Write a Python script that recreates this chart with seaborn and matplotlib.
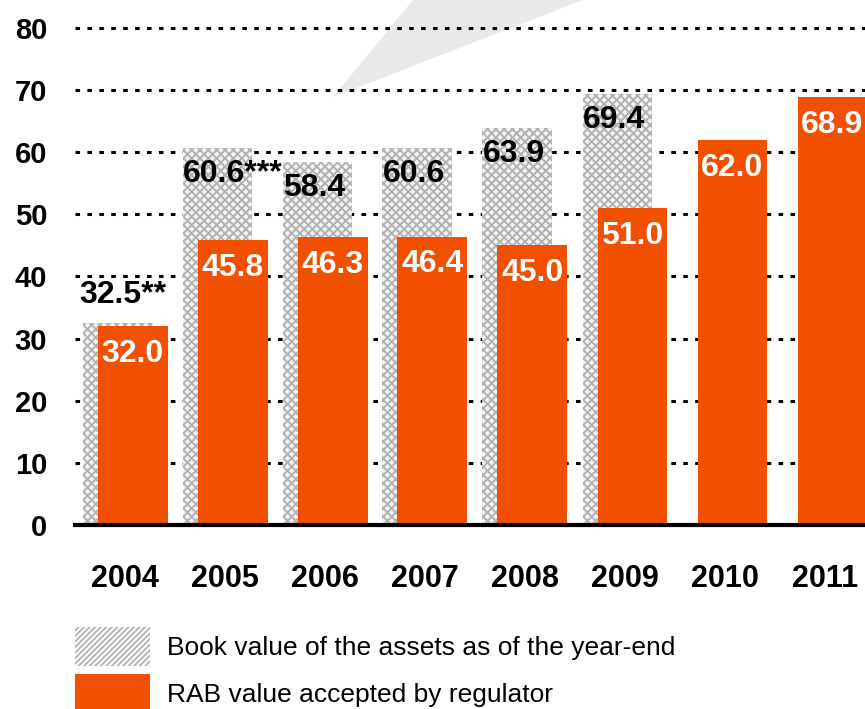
import numpy as np
import pandas as pd
import matplotlib
matplotlib.use("Agg")
import matplotlib.pyplot as plt
from matplotlib.patches import Patch, Polygon
import seaborn as sns

# ==========================
# Data
# ==========================
years = ["2004", "2005", "2006", "2007", "2008", "2009", "2010", "2011"]
book_value = [32.5, 60.6, 58.4, 60.6, 63.9, 69.4]
book_labels = ["32.5**", "60.6***", "58.4", "60.6", "63.9", "69.4"]
rab_value = [32.0, 45.8, 46.3, 46.4, 45.0, 51.0, 62.0, 68.9]
rab_labels = ["32.0", "45.8", "46.3", "46.4", "45.0", "51.0", "62.0", "68.9"]
y_ticks = [0, 10, 20, 30, 40, 50, 60, 70, 80]
legend_labels = ["Book value of the assets as of the year-end",
                 "RAB value accepted by regulator"]

ORANGE = "#F05000"
HATCH_GREY = "#b2b2b2"
shift = 0.075
bar_w = 0.7

# ==========================
# Style
# ==========================
sns.set_style("white")
plt.rcParams["font.family"] = ["Liberation Sans", "DejaVu Sans"]
plt.rcParams["hatch.linewidth"] = 1.4
plt.rcParams["text.color"] = "black"
plt.rcParams["xtick.color"] = "black"
plt.rcParams["ytick.color"] = "black"

fig = plt.figure(figsize=(8.65, 7.09), dpi=100)
ax = fig.add_axes([75 / 865, 184 / 709, 790 / 865, 525 / 709])
ax.patch.set_visible(False)

# light grey decorative wedge behind the chart
wedge = Polygon([(333 / 865, 1 - 97 / 709), (413 / 865, 1.0), (583 / 865, 1.0)],
                closed=True, transform=fig.transFigure,
                facecolor="#e9e9e9", edgecolor="none", zorder=-5)
fig.add_artist(wedge)

pos = np.arange(len(years))
book_df = pd.DataFrame({"x": pos[:len(book_value)] - shift, "v": book_value})
rab_df = pd.DataFrame({"x": pos + shift, "v": rab_value})

sns.barplot(data=book_df, x="x", y="v", native_scale=True, width=bar_w,
            color="#f4f4f4", edgecolor=HATCH_GREY, linewidth=0, hatch="xxxx",
            errorbar=None, saturation=1, ax=ax)
sns.barplot(data=rab_df, x="x", y="v", native_scale=True, width=bar_w,
            color=ORANGE, linewidth=0, errorbar=None, saturation=1, ax=ax)

# ==========================
# Value labels
# ==========================
for i, (v, lab) in enumerate(zip(book_value, book_labels)):
    left = pos[i] - shift - bar_w / 2
    if v - rab_value[i] < 5:
        # label above bar when the orange bar hides it
        ax.annotate(lab, xy=(left, v), xytext=(-2, 20), textcoords="offset points",
                    ha="left", va="center", fontsize=23, fontweight="bold", color="black")
    else:
        ax.annotate(lab, xy=(left, v), xytext=(0.5, -18.5), textcoords="offset points",
                    ha="left", va="center", fontsize=23, fontweight="bold", color="black")

for i, (v, lab) in enumerate(zip(rab_value, rab_labels)):
    ax.annotate(lab, xy=(pos[i] + shift, v), xytext=(0, -20), textcoords="offset points",
                ha="center", va="center", fontsize=23, fontweight="bold", color="white")

# ==========================
# Axes
# ==========================
ax.set_xlim(-0.5, 7.4)
ax.set_ylim(0, 84.5)
ax.set_xticks(pos)
ax.set_xticklabels(years, fontsize=22, fontweight="bold", color="black")
ax.set_yticks(y_ticks)
ax.set_yticklabels([str(t) for t in y_ticks], fontsize=21, fontweight="bold", color="black")
ax.tick_params(axis="x", length=0, pad=28)
ax.tick_params(axis="y", length=0, pad=20)
ax.set_xlabel("")
ax.set_ylabel("")

ax.set_axisbelow(True)
ax.yaxis.grid(True, color="black", linewidth=2.2, linestyle=(0, (1.5, 2.4)))
ax.xaxis.grid(False)
for side in ["top", "right", "left"]:
    ax.spines[side].set_visible(False)
ax.spines["bottom"].set_linewidth(3)
ax.spines["bottom"].set_color("black")
ax.spines["bottom"].set_zorder(5)

# ==========================
# Legend
# ==========================
handles = [
    Patch(facecolor="white", edgecolor="#b5b5b5", hatch="//////", linewidth=0),
    Patch(facecolor=ORANGE, edgecolor="none", linewidth=0),
]
leg = fig.legend(handles, legend_labels, loc="upper left",
                 bbox_to_anchor=(75 / 865, 1 - 627 / 709), bbox_transform=fig.transFigure,
                 frameon=False, fontsize=19, handlelength=2.84, handleheight=1.9,
                 handletextpad=0.64, labelspacing=0.3, borderpad=0, borderaxespad=0)
for t in leg.get_texts():
    t.set_color("black")

fig.savefig("out.png", dpi=100)
